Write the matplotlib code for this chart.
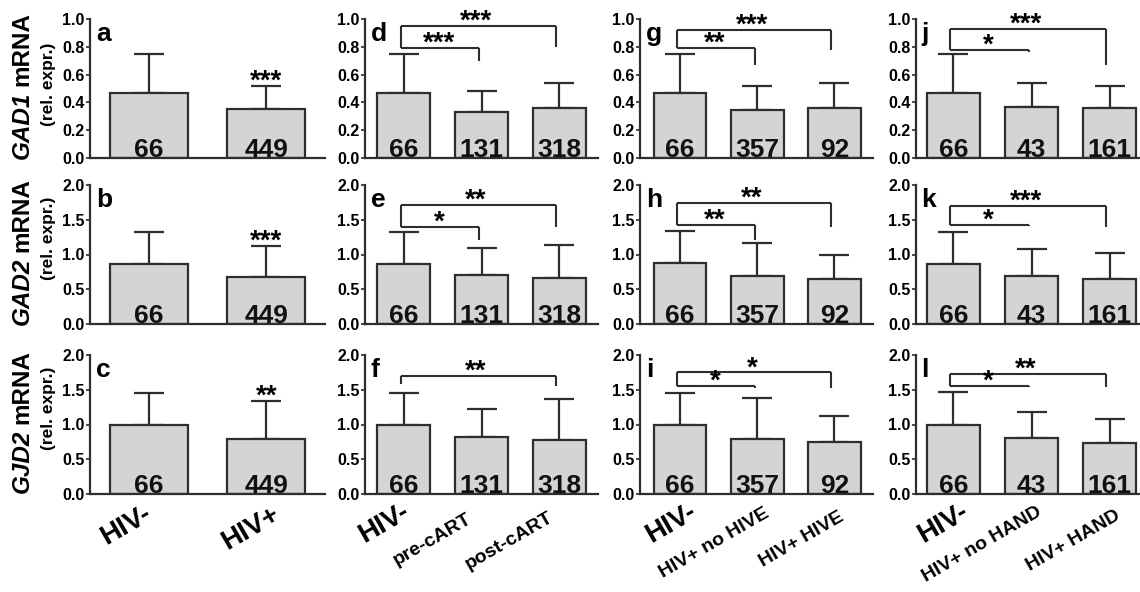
import matplotlib
matplotlib.use("Agg")
import matplotlib.pyplot as plt

plt.rcParams['font.family'] = ['Liberation Sans', 'DejaVu Sans']
plt.rcParams['font.weight'] = 'bold'

# group labels and sample sizes per column
labels_col1 = ['HIV-', 'HIV+']
labels_col2 = ['HIV-', 'pre-cART', 'post-cART']
labels_col3 = ['HIV-', 'HIV+ no HIVE', 'HIV+ HIVE']
labels_col4 = ['HIV-', 'HIV+ no HAND', 'HIV+ HAND']
n_col1 = [66, 449]
n_col2 = [66, 131, 318]
n_col3 = [66, 357, 92]
n_col4 = [66, 43, 161]

# means (rel. expr.) and upper error per panel
gad1_mean = [[0.47, 0.35], [0.47, 0.333, 0.362], [0.47, 0.345, 0.362], [0.47, 0.365, 0.357]]
gad1_sd = [[0.28, 0.17], [0.28, 0.151, 0.175], [0.28, 0.175, 0.175], [0.28, 0.177, 0.161]]
gad2_mean = [[0.865, 0.67], [0.87, 0.71, 0.66], [0.873, 0.69, 0.643], [0.87, 0.686, 0.652]]
gad2_sd = [[0.46, 0.45], [0.46, 0.38, 0.47], [0.467, 0.475, 0.347], [0.46, 0.389, 0.374]]
gjd2_mean = [[0.99, 0.79], [0.99, 0.82, 0.77], [0.99, 0.79, 0.75], [1.0, 0.80, 0.74]]
gjd2_sd = [[0.47, 0.55], [0.47, 0.40, 0.60], [0.47, 0.59, 0.37], [0.47, 0.38, 0.34]]

# significance: col 1 star above HIV+, others brackets
# (inner label, inner y, inner leg end, outer label, outer y, outer leg end)
sig_col1 = ['***', '***', '**']
sig_brackets = {
    'd': ('***', 0.79, 0.70, '***', 0.95, 0.80),
    'e': ('*', 1.40, 1.21, '**', 1.71, 1.40),
    'f': (None, 1.58, 1.58, '**', 1.70, 1.55),
    'g': ('**', 0.79, 0.67, '***', 0.92, 0.78),
    'h': ('**', 1.42, 1.21, '**', 1.74, 1.39),
    'i': ('*', 1.55, 1.53, '*', 1.75, 1.53),
    'j': ('*', 0.78, 0.76, '***', 0.93, 0.67),
    'k': ('*', 1.43, 1.41, '***', 1.70, 1.39),
    'l': ('*', 1.56, 1.54, '**', 1.73, 1.54),
}

genes = ['GAD1', 'GAD2', 'GJD2']
letters = [['a', 'd', 'g', 'j'], ['b', 'e', 'h', 'k'], ['c', 'f', 'i', 'l']]

W, H = 1140, 592
PT = 100 / 72.0
fig = plt.figure(figsize=(11.4, 5.92), dpi=100)

cols = [(90, 325, (-0.5, 1.5), 0.66), (365, 598, (-0.5, 2.5), 0.68),
        (640, 873, (-0.52, 2.5), 0.68), (916, 1140, (-0.48, 2.39), 0.68)]
rows = [(19, 158, 1.0, [0, 0.2, 0.4, 0.6, 0.8, 1.0]),
        (185, 324, 2.0, [0, 0.5, 1.0, 1.5, 2.0]),
        (355, 494, 2.0, [0, 0.5, 1.0, 1.5, 2.0])]
col_labels = [labels_col1, labels_col2, labels_col3, labels_col4]
col_n = [n_col1, n_col2, n_col3, n_col4]
means = [gad1_mean, gad2_mean, gjd2_mean]
sds = [gad1_sd, gad2_sd, gjd2_sd]
# label anchor offsets in pixels (right end, below axis)
label_off = [[(-6, 7), (5, 7)],
             [(-3, 5), (-15, 16), (-12, 15)],
             [(8, 5), (6, 11), (4, 14)],
             [(7, 5), (5, 9), (5, 13)]]

dark = '#2e2e2e'
for r, (yt, yb, ymax, yticks) in enumerate(rows):
    for c, (x0, x1, xl, bw) in enumerate(cols):
        ax = fig.add_axes([x0 / W, 1 - yb / H, (x1 - x0) / W, (yb - yt) / H])
        m = means[r][c]
        s = sds[r][c]
        xs = list(range(len(m)))
        ax.bar(xs, m, width=bw, color='#d4d4d4', edgecolor=dark, linewidth=1.6, zorder=2)
        ax.errorbar(xs, m, yerr=[[0] * len(s), s], fmt='none', ecolor=dark,
                    elinewidth=1.6, capsize=10.5, capthick=1.6, zorder=1)
        for x, n in zip(xs, col_n[c]):
            ax.annotate(str(n), (x, 0), xytext=(0, 1), textcoords='offset points',
                        ha='center', va='baseline', fontsize=19, color='#111111')
        ax.set_xlim(*xl)
        ax.set_ylim(0, ymax)
        ax.set_yticks(yticks)
        ax.set_yticklabels(['%.1f' % t for t in yticks], fontsize=11.5)
        ax.set_xticks([])
        for sp in ['top', 'right']:
            ax.spines[sp].set_visible(False)
        for sp in ['left', 'bottom']:
            ax.spines[sp].set_linewidth(1.6)
            ax.spines[sp].set_color(dark)
        ax.tick_params(axis='y', length=3, width=1.2, color=dark, pad=1)
        ax.text(0.025, 0.975, letters[r][c], transform=ax.transAxes, ha='left',
                va='top', fontsize=19)

        # significance marks
        if c == 0:
            top = m[1] + s[1]
            ax.annotate(sig_col1[r], (1, top), xytext=(0, -2), textcoords='offset points',
                        ha='center', va='baseline', fontsize=20)
        else:
            il, iy, iend, ol, oy, oend = sig_brackets[letters[r][c]]
            kw = dict(color=dark, lw=1.5, clip_on=False, solid_capstyle='butt')
            ax.plot([-0.04, -0.04], [oy, iy], **kw)
            ax.plot([-0.04, 1.96], [oy, oy], **kw)
            ax.plot([1.96, 1.96], [oy, oend], **kw)
            if il is not None:
                ax.plot([-0.04, 0.97], [iy, iy], **kw)
                ax.plot([0.97, 0.97], [iy, iend], **kw)
                ax.annotate(il, (0.45, iy), xytext=(0, -2), textcoords='offset points',
                            ha='center', va='baseline', fontsize=20, annotation_clip=False)
            ax.annotate(ol, (0.93, oy), xytext=(0, -2), textcoords='offset points',
                        ha='center', va='baseline', fontsize=20, annotation_clip=False)

        # group labels under the bottom row
        if r == 2:
            for i, lbl in enumerate(col_labels[c]):
                big = (i == 0) or (c == 0)
                dx, dy = label_off[c][i]
                ax.annotate(lbl, (i, 0), xytext=(dx / PT, -dy / PT),
                            textcoords='offset points', rotation=30,
                            rotation_mode='anchor', ha='right', va='top',
                            fontsize=20 if big else 14, annotation_clip=False)

# y labels with italic gene names
fig.canvas.draw()
ylab_small = [84, 238, 408]
for r, (yt, yb, ymax, yticks) in enumerate(rows):
    cy = (yt + yb) / 2 - 3
    t1 = fig.text(22 / W, 0, genes[r], rotation=90, style='italic', fontsize=17.5,
                  ha='center', va='bottom')
    t2 = fig.text(22 / W, 0, 'mRNA', rotation=90, fontsize=17.5, ha='center', va='bottom')
    b1 = t1.get_window_extent()
    b2 = t2.get_window_extent()
    gap = 5
    total = b1.height + gap + b2.height
    ybot = (H - cy) - total / 2
    t1.set_y(ybot / H)
    t2.set_y((ybot + b1.height + gap) / H)
    fig.text(48 / W, 1 - ylab_small[r] / H, '(rel. expr.)', rotation=90, fontsize=12.5,
             ha='center', va='center')

fig.savefig('out.png', dpi=100)
